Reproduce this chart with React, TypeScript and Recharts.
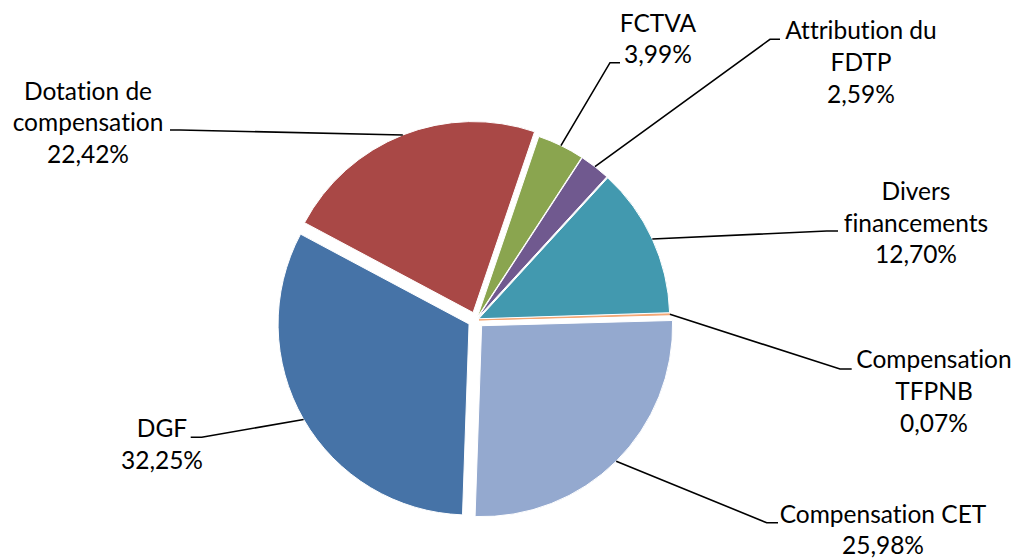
import React from 'react';
import { PieChart, Pie, Cell } from 'recharts';

// ---- data ----
const categories = [
  'Dotation de compensation',
  'FCTVA',
  'Attribution du FDTP',
  'Divers financements',
  'Compensation TFPNB',
  'Compensation CET',
  'DGF',
];
const shares = [22.42, 3.99, 2.59, 12.7, 0.07, 25.98, 32.25];

// ---- styles ----
const colors = ['#A94846', '#8AA54F', '#70598F', '#4299AF', '#F4A470', '#94A9CF', '#4673A7'];
const strokes = ['#fff', '#fff', '#fff', '#fff', '#F4A470', '#fff', '#fff'];
const explode = [8, 3, 3, 3, 3, 8, 8];

const data = categories.map((name, i) => ({ name, value: shares[i] }));

const W = 1016;
const H = 558;
const CX = 476;
const CY = 320;
const R = 191;
const START = 151.93;
const END = START - 360;
const RAD = Math.PI / 180;

const total = shares.reduce((a, b) => a + b, 0);
const mids: number[] = [];
{
  let acc = 0;
  shares.forEach((v) => {
    mids.push(START - ((acc + v / 2) / total) * 360);
    acc += v;
  });
}
const offsets = mids.map((m, i) => ({
  dx: explode[i] * Math.cos(m * RAD),
  dy: -explode[i] * Math.sin(m * RAD),
}));

// label layout: words on first line, text centre, first baseline, elbow & end of leader
const labelLayout = [
  { first: 2, x: 88, y: 99.5, elbow: [180, 130], end: [170, 130] },
  { first: 0, x: 658, y: 31.7, elbow: [610, 62.7], end: [620, 62.7] },
  { first: 2, x: 861, y: 39.3, elbow: [770, 39.3], end: [780, 39.3] },
  { first: 1, x: 916, y: 200, elbow: [826.7, 231], end: [838, 231] },
  { first: 1, x: 934, y: 368.3, elbow: [840, 369], end: [851.7, 369] },
  { first: 0, x: 883, y: 522.7, elbow: [766.7, 522.7], end: [778, 522.7] },
  { first: 0, x: 162, y: 437.3, elbow: [201.7, 437.3], end: [190.7, 437.3] },
];
const LH = 31.6;

const fmt = (v: number) => v.toFixed(2).replace('.', ',') + '%';

const renderLabel = (props: any) => {
  const { cx, cy, midAngle, outerRadius, index, value } = props;
  const o = offsets[index];
  const ax = cx + o.dx + outerRadius * Math.cos(-midAngle * RAD);
  const ay = cy + o.dy + outerRadius * Math.sin(-midAngle * RAD);
  const L = labelLayout[index];
  const words = categories[index].split(' ');
  const lines =
    L.first > 0
      ? [words.slice(0, L.first).join(' '), words.slice(L.first).join(' ')]
      : [categories[index]];
  lines.push(fmt(value));
  return (
    <g key={`lab-${index}`}>
      <polyline
        points={`${ax},${ay} ${L.elbow[0]},${L.elbow[1]} ${L.end[0]},${L.end[1]}`}
        fill="none"
        stroke="#000"
        strokeWidth={1.6}
      />
      <text
        textAnchor="middle"
        fontFamily="Lato, 'Liberation Sans', sans-serif"
        fontSize={24.5}
        fill="#000"
        style={{ fontVariantLigatures: 'none' }}
      >
        {lines.map((t, k) => (
          <tspan key={k} x={L.x} y={L.y + k * LH}>
            {t}
          </tspan>
        ))}
      </text>
    </g>
  );
};

export default function App() {
  return (
    <div style={{ position: 'absolute', left: 0, top: 0, width: W, height: H, background: '#fff' }}>
      <PieChart width={W} height={H} margin={{ top: 0, right: 0, bottom: 0, left: 0 }}>
        {data.map((_, j) => (
          <Pie
            key={`pie-${j}`}
            data={data}
            dataKey="value"
            nameKey="name"
            cx={CX + offsets[j].dx}
            cy={CY + offsets[j].dy}
            outerRadius={R}
            startAngle={START}
            endAngle={END}
            isAnimationActive={false}
            labelLine={false}
            label={false}
          >
            {data.map((__, i) => (
              <Cell
                key={`c-${j}-${i}`}
                fill={i === j ? colors[i] : 'none'}
                stroke={i === j ? strokes[i] : 'none'}
                strokeWidth={1}
              />
            ))}
          </Pie>
        ))}
        <Pie
          data={data}
          dataKey="value"
          nameKey="name"
          cx={CX}
          cy={CY}
          outerRadius={R}
          startAngle={START}
          endAngle={END}
          isAnimationActive={false}
          labelLine={false}
          label={renderLabel}
        >
          {data.map((__, i) => (
            <Cell key={`l-${i}`} fill="none" stroke="none" />
          ))}
        </Pie>
      </PieChart>
    </div>
  );
}
